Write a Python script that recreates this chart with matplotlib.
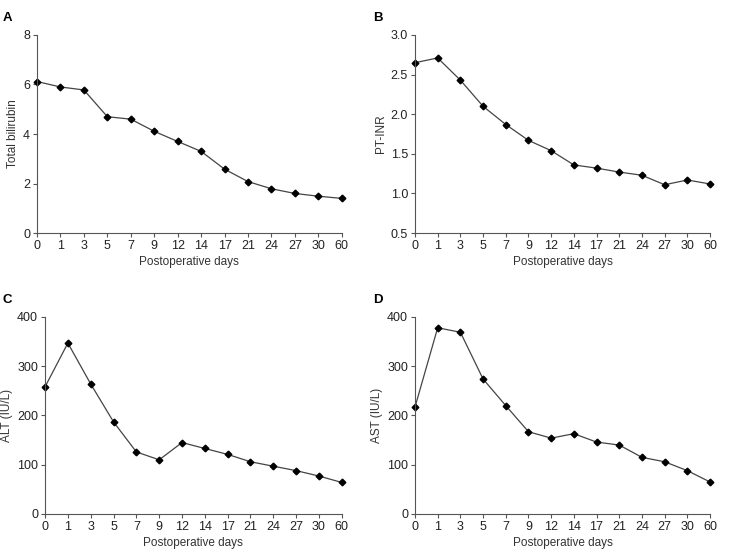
import numpy as np
import matplotlib
matplotlib.use('Agg')
import matplotlib.pyplot as plt

plt.rcParams['font.family'] = ['Liberation Sans', 'DejaVu Sans']

# hari pasca operasi (sumbu x kategorikal)
days = ['0', '1', '3', '5', '7', '9', '12', '14', '17', '21', '24', '27', '30', '60']

total_bilirubin = [6.12, 5.9, 5.78, 4.7, 4.6, 4.11, 3.7, 3.3, 2.58, 2.08, 1.79, 1.6, 1.49, 1.4]
pt_inr = [2.65, 2.71, 2.43, 2.10, 1.87, 1.67, 1.54, 1.36, 1.32, 1.27, 1.23, 1.11, 1.17, 1.12]
alt = [258, 347, 264, 187, 126, 110, 145, 133, 121, 106, 97, 88, 77, 64]
ast = [217, 378, 369, 274, 220, 167, 154, 163, 146, 140, 115, 106, 88, 65]

panels = [
    # (huruf, data, label y, ylim, yticks, rect axes, posisi x huruf)
    ('A', total_bilirubin, 'Total bilirubin', (0, 8), [0, 2, 4, 6, 8],
     [0.0506, 0.580, 0.417, 0.357], 0.004),
    ('B', pt_inr, 'PT-INR', (0.5, 3.0), [0.5, 1.0, 1.5, 2.0, 2.5, 3.0],
     [0.5677, 0.580, 0.4036, 0.357], 0.510),
    ('C', alt, 'ALT (IU/L)', (0, 400), [0, 100, 200, 300, 400],
     [0.0616, 0.0739, 0.406, 0.355], 0.004),
    ('D', ast, 'AST (IU/L)', (0, 400), [0, 100, 200, 300, 400],
     [0.5677, 0.0739, 0.4036, 0.355], 0.510),
]

fig = plt.figure(figsize=(7.31, 5.55), dpi=100)

for huruf, data, ylabel, ylim, yticks, rect, fx in panels:
    ax = fig.add_axes(rect)
    x = np.arange(len(days))
    ax.plot(x, data, color='#444444', linewidth=0.9, marker='D', markersize=3.4,
            markerfacecolor='black', markeredgecolor='black', clip_on=False)
    ax.set_xlim(0, len(days) - 1)
    ax.set_ylim(*ylim)
    ax.set_xticks(x)
    ax.set_xticklabels(days)
    ax.set_yticks(yticks)
    if huruf == 'B':
        ax.set_yticklabels([f'{v:.1f}' for v in yticks])
    ax.spines['top'].set_visible(False)
    ax.spines['right'].set_visible(False)
    for s in ['left', 'bottom']:
        ax.spines[s].set_color('#555555')
        ax.spines[s].set_linewidth(0.8)
    ax.tick_params(direction='out', length=3, width=0.8, color='#555555',
                   labelsize=9, labelcolor='#222222', pad=2)
    ax.set_xlabel('Postoperative days', fontsize=8.5, color='#333333', labelpad=3)
    ax.set_ylabel(ylabel, fontsize=8.5, color='#333333', labelpad=3)
    # huruf panel
    fig.text(fx, rect[1] + rect[3] + 0.031, huruf, fontsize=9.5, fontweight='bold',
             ha='left', va='center')

fig.savefig('out.png', dpi=100)
